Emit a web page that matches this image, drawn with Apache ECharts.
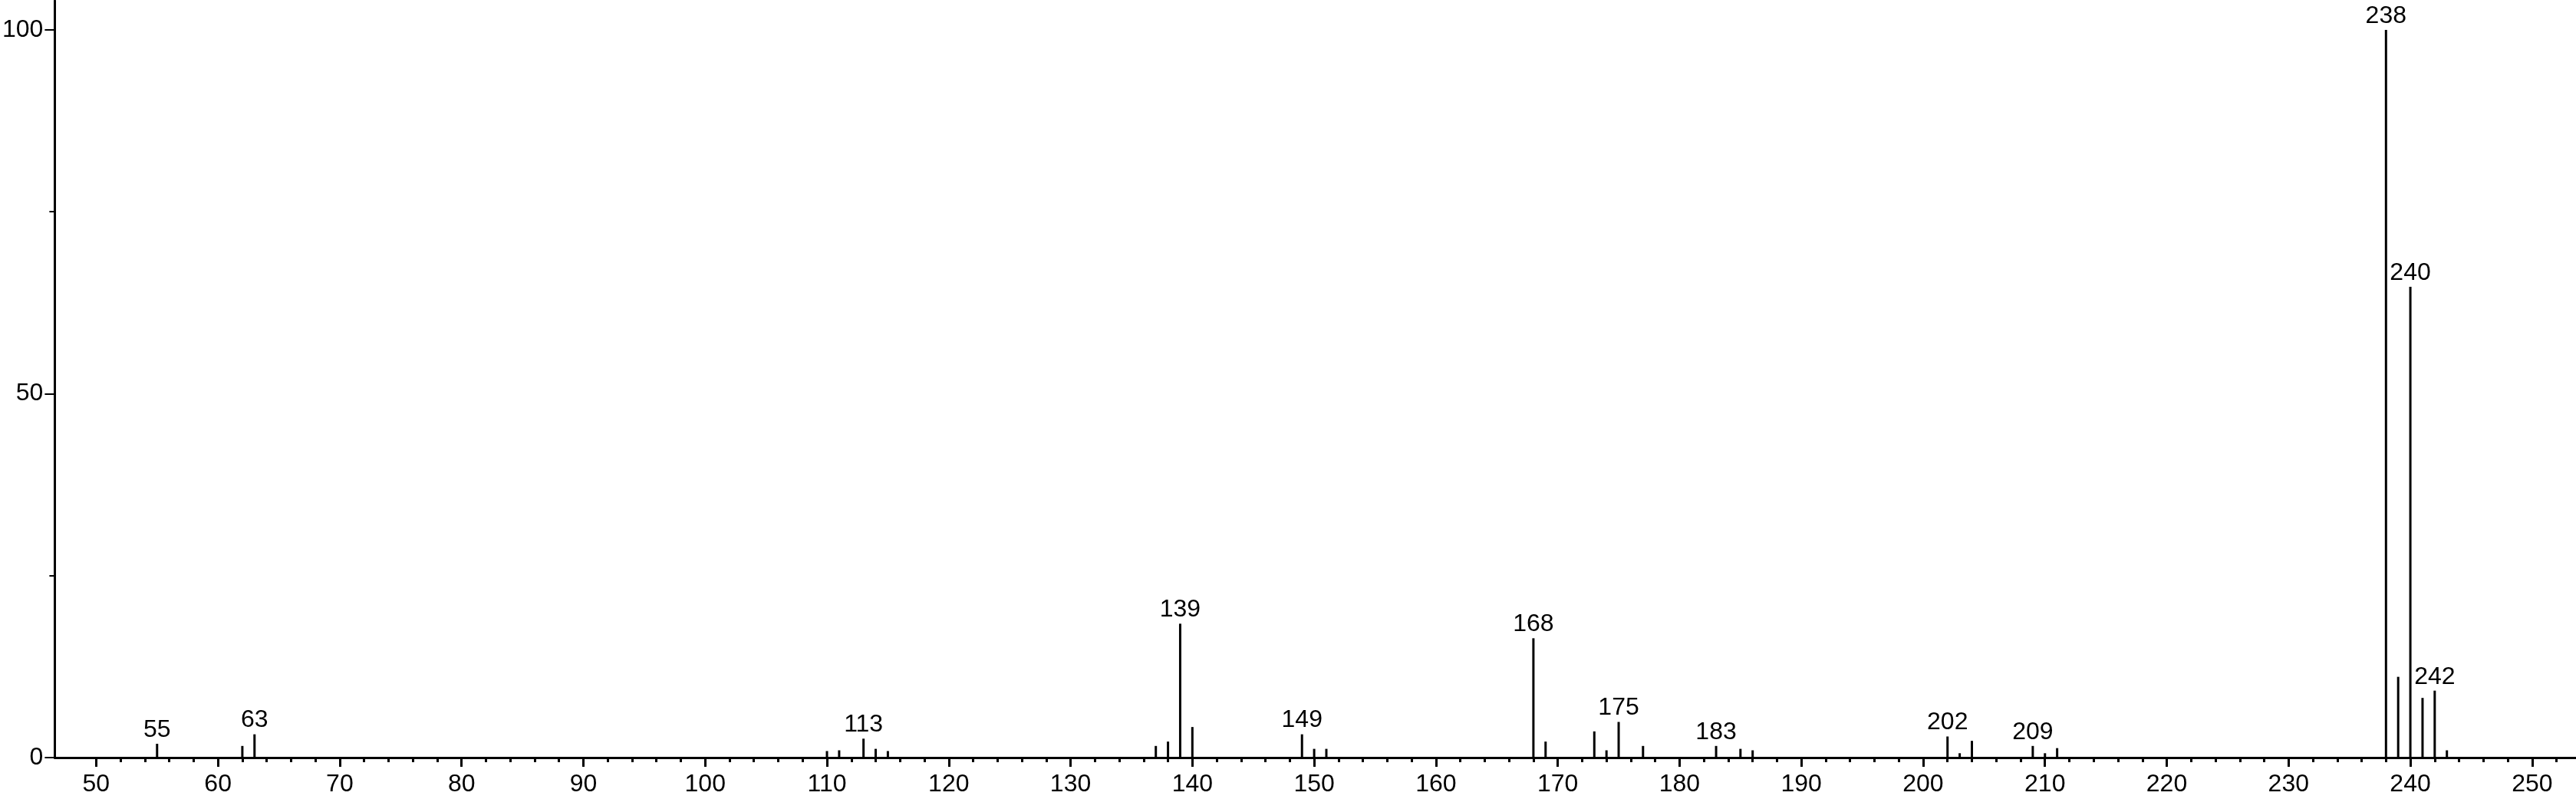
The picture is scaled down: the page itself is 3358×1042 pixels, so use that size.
<!DOCTYPE html>
<html>
<head>
<meta charset="utf-8">
<script src="https://cdn.jsdelivr.net/npm/echarts@6/dist/echarts.min.js"></script>
<style>
html,body{margin:0;padding:0;background:#fff;}
#chart{width:3358px;height:1042px;}
</style>
</head>
<body>
<div id="chart"></div>
<script>
// m/z values and relative intensities
const mz = [55,62,63,110,111,113,114,115,137,138,139,140,149,150,151,168,169,173,174,175,177,183,185,186,202,203,204,209,210,211,238,239,240,241,242,243];
const intensity = [1.9,1.6,3.2,0.9,1.0,2.6,1.2,0.9,1.6,2.2,18.4,4.2,3.2,1.2,1.2,16.4,2.2,3.6,1.0,4.9,1.6,1.6,1.2,1.0,2.9,0.6,2.3,1.6,0.6,1.3,100,11.1,64.7,8.2,9.2,1.0];
const labeledPeaks = [55,63,113,139,149,168,175,183,202,209,238,240,242];
const xMajorTicks = [50,60,70,80,90,100,110,120,130,140,150,160,170,180,190,200,210,220,230,240,250];
const xMinorTicks = [];
for (let i = 0; i < xMajorTicks.length - 1; i++) {
  for (const d of [2,4,6,8]) xMinorTicks.push(xMajorTicks[i] + d);
}
xMinorTicks.push(252);
const yMajorTicks = [0,50,100];
const yMinorTicks = [25,75];

const FONT = '"Liberation Sans", Arial, sans-serif';
const chart = echarts.init(document.getElementById('chart'), null, {renderer:'canvas'});

const data = mz.map((m, i) => {
  const item = {value:[m, intensity[i]]};
  if (labeledPeaks.includes(m)) item.label = {show:true};
  return item;
});

chart.setOption({
  animation:false,
  backgroundColor:'#fff',
  grid:{left:70, right:0, top:1, bottom:54, containLabel:false},
  xAxis:[
    {
      type:'value', min:46.6, max:253.6, position:'bottom',
      axisLine:{show:true, onZero:false, lineStyle:{color:'#000', width:3}},
      axisTick:{show:true, length:12, customValues:xMajorTicks, lineStyle:{color:'#000', width:3}},
      axisLabel:{show:true, customValues:xMajorTicks, margin:19, color:'#000', fontSize:32, fontFamily:FONT},
      splitLine:{show:false}
    },
    {
      type:'value', min:46.6, max:253.6, position:'bottom',
      axisLine:{show:false, onZero:false},
      axisTick:{show:true, length:6, customValues:xMinorTicks, lineStyle:{color:'#000', width:3}},
      axisLabel:{show:false},
      splitLine:{show:false}
    }
  ],
  yAxis:[
    {
      type:'value', min:0, max:104, position:'left',
      axisLine:{show:true, onZero:false, lineStyle:{color:'#000', width:3}},
      axisTick:{show:true, length:13, customValues:yMajorTicks, lineStyle:{color:'#000', width:2}},
      axisLabel:{show:true, customValues:yMajorTicks, margin:15, color:'#000', fontSize:32, fontFamily:FONT},
      splitLine:{show:false}
    },
    {
      type:'value', min:0, max:104, position:'left',
      axisLine:{show:false, onZero:false},
      axisTick:{show:true, length:7, customValues:yMinorTicks, lineStyle:{color:'#000', width:2}},
      axisLabel:{show:false},
      splitLine:{show:false}
    }
  ],
  series:[{
    type:'bar',
    xAxisIndex:0, yAxisIndex:0,
    barWidth:3,
    itemStyle:{color:'#000'},
    label:{show:false, position:'top', distance:2, color:'#000', fontSize:32, fontFamily:FONT,
      formatter:p => String(p.value[0])},
    data:data
  }]
});
</script>
</body>
</html>
